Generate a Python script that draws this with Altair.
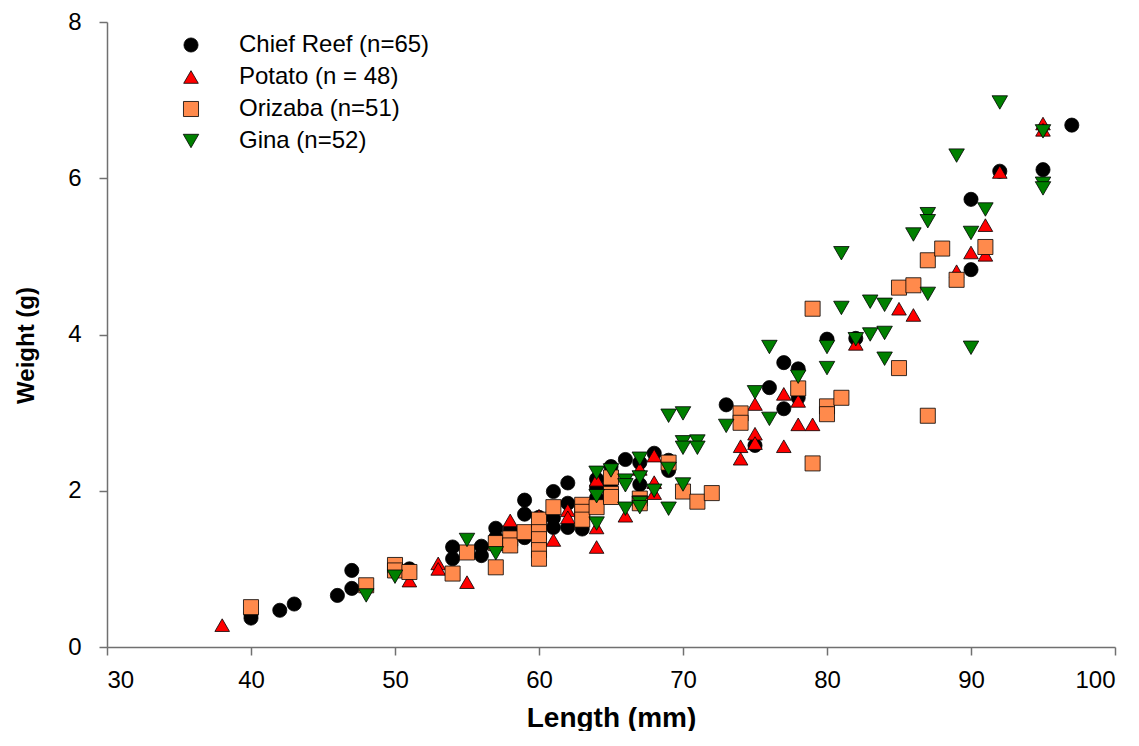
import altair as alt
import pandas as pd

series_names = ["Chief Reef (n=65)", "Potato (n = 48)", "Orizaba (n=51)", "Gina (n=52)"]
series_colors = ["#000000", "#FF0000", "#FF8A4C", "#008000"]
series_shapes = ["circle", "triangle-up", "square", "triangle-down"]
series_sizes = [200, 240, 130, 240]

chief_len = [40, 40, 42, 43, 46, 47, 47, 50, 51, 54, 54, 56, 56, 57, 57, 58, 58, 59, 59, 59, 60,
             61, 61, 61, 62, 62, 62, 63, 64, 64, 64, 65, 65, 66, 67, 67, 68, 69, 69, 73, 75, 76,
             77, 77, 78, 78, 80, 82, 90, 90, 92, 95, 97]
chief_wt = [0.42, 0.37, 0.47, 0.55, 0.66, 0.98, 0.75, 1.04, 1.00, 1.28, 1.13, 1.29, 1.17, 1.52,
            1.40, 1.50, 1.30, 1.88, 1.70, 1.40, 1.66, 1.99, 1.65, 1.53, 2.10, 1.84, 1.53, 1.51,
            2.15, 2.04, 1.91, 2.31, 2.09, 2.40, 2.36, 2.08, 2.48, 2.39, 2.26, 3.10, 2.58, 3.32,
            3.64, 3.05, 3.56, 3.19, 3.94, 3.95, 5.73, 4.83, 6.09, 6.11, 6.68]

potato_len = [38, 51, 53, 53, 55, 58, 60, 60, 61, 62, 62, 64, 64, 64, 66, 67, 68, 68, 68, 74, 74,
              75, 75, 75, 77, 77, 78, 78, 79, 82, 85, 86, 89, 90, 91, 91, 92, 95, 95]
potato_wt = [0.28, 0.85, 1.07, 1.00, 0.83, 1.62, 1.68, 1.30, 1.37, 1.75, 1.66, 2.14, 1.53, 1.28,
             1.68, 2.28, 2.45, 2.11, 1.97, 2.57, 2.41, 3.11, 2.73, 2.61, 3.24, 2.57, 3.15, 2.85,
             2.85, 3.88, 4.33, 4.25, 4.81, 5.05, 5.40, 5.02, 6.08, 6.70, 6.62]

orizaba_len = [40, 48, 50, 50, 51, 54, 55, 57, 57, 58, 58, 59, 60, 60, 60, 60, 60, 61, 63, 63, 63,
               64, 65, 65, 65, 67, 67, 69, 70, 71, 72, 74, 74, 78, 79, 79, 80, 80, 81, 85, 85, 86,
               87, 87, 88, 89, 91]
orizaba_wt = [0.51, 0.79, 1.05, 0.98, 0.96, 0.94, 1.21, 1.02, 1.33, 1.39, 1.30, 1.47, 1.63, 1.47,
              1.38, 1.24, 1.13, 1.79, 1.82, 1.73, 1.63, 1.79, 2.17, 1.96, 1.92, 1.90, 1.84, 2.36,
              1.99, 1.86, 1.97, 2.99, 2.87, 3.31, 4.33, 2.35, 3.08, 2.98, 3.19, 4.60, 3.57, 4.63,
              4.95, 2.96, 5.10, 4.70, 5.12]

gina_len = [48, 50, 55, 57, 64, 64, 64, 65, 66, 66, 66, 67, 67, 67, 67, 68, 69, 69, 69, 70, 70, 70,
            70, 71, 71, 73, 75, 76, 76, 78, 80, 80, 81, 81, 82, 83, 83, 84, 84, 84, 86, 87, 87, 87,
            89, 90, 90, 91, 92, 95, 95, 95]
gina_wt = [0.66, 0.90, 1.37, 1.20, 2.23, 1.93, 1.58, 2.26, 2.13, 2.07, 1.77, 2.41, 2.17, 1.84, 1.79,
           2.00, 2.28, 1.77, 2.96, 2.99, 2.62, 2.55, 2.08, 2.63, 2.55, 2.83, 3.26, 3.84, 2.92, 3.46,
           3.84, 3.57, 4.34, 5.04, 3.94, 4.42, 4.00, 4.38, 4.02, 3.69, 5.28, 5.54, 5.45, 4.52, 6.29,
           5.30, 3.83, 5.60, 6.97, 6.60, 5.93, 5.87]

x_ticks = [30, 40, 50, 60, 70, 80, 90, 100]
y_ticks = [0, 2, 4, 6, 8]

frames = []
for name, L, W in zip(series_names,
                      [chief_len, potato_len, orizaba_len, gina_len],
                      [chief_wt, potato_wt, orizaba_wt, gina_wt]):
    frames.append(pd.DataFrame({"Length": L, "Weight": W, "Site": name}))
df = pd.concat(frames, ignore_index=True)
df["ord"] = range(len(df))

FONT = "Liberation Sans"
AXC = "#707070"

chart = alt.Chart(df).mark_point(
    filled=True, opacity=1, stroke="black", strokeWidth=0.8
).encode(
    x=alt.X("Length:Q", scale=alt.Scale(domain=[30, 100], nice=False),
            axis=alt.Axis(title="Length (mm)", values=x_ticks, format="d",
                          titleY=79, titleBaseline="alphabetic")),
    y=alt.Y("Weight:Q", scale=alt.Scale(domain=[0, 8], nice=False),
            axis=alt.Axis(title="Weight (g)", values=y_ticks, format="d",
                          titleX=-74, titleY=323, titleAngle=-90,
                          titleAlign="center", titleBaseline="alphabetic")),
    color=alt.Color("Site:N", scale=alt.Scale(domain=series_names, range=series_colors),
                    legend=alt.Legend(title=None, orient="none", legendX=72, legendY=11,
                                      symbolSize=170, symbolStrokeColor="black",
                                      symbolStrokeWidth=0.8, labelOffset=36, rowPadding=8,
                                      labelFontSize=24, labelFont=FONT, labelColor="black",
                                      labelLimit=0, padding=0)),
    shape=alt.Shape("Site:N", scale=alt.Scale(domain=series_names, range=series_shapes)),
    size=alt.Size("Site:N", scale=alt.Scale(domain=series_names, range=series_sizes), legend=None),
    order=alt.Order("ord:Q"),
).properties(
    width=1008, height=625,
    autosize=alt.AutoSizeParams(type="none"),
    padding={"left": 99, "top": 14, "right": 16, "bottom": 84},
).configure_view(
    stroke=None
).configure_axis(
    grid=False, domainColor=AXC, domainWidth=1.5, tickColor=AXC, tickWidth=1.5, tickSize=8,
    labelFont=FONT, labelFontSize=24, labelColor="black",
    titleFont=FONT, titleFontWeight="bold", titleColor="black",
).configure_axisX(
    labelPadding=13, titleFontSize=28
).configure_axisY(
    labelPadding=18, titleFontSize=24
)

chart.save("out.html", embed_options={"renderer": "svg", "actions": False})
